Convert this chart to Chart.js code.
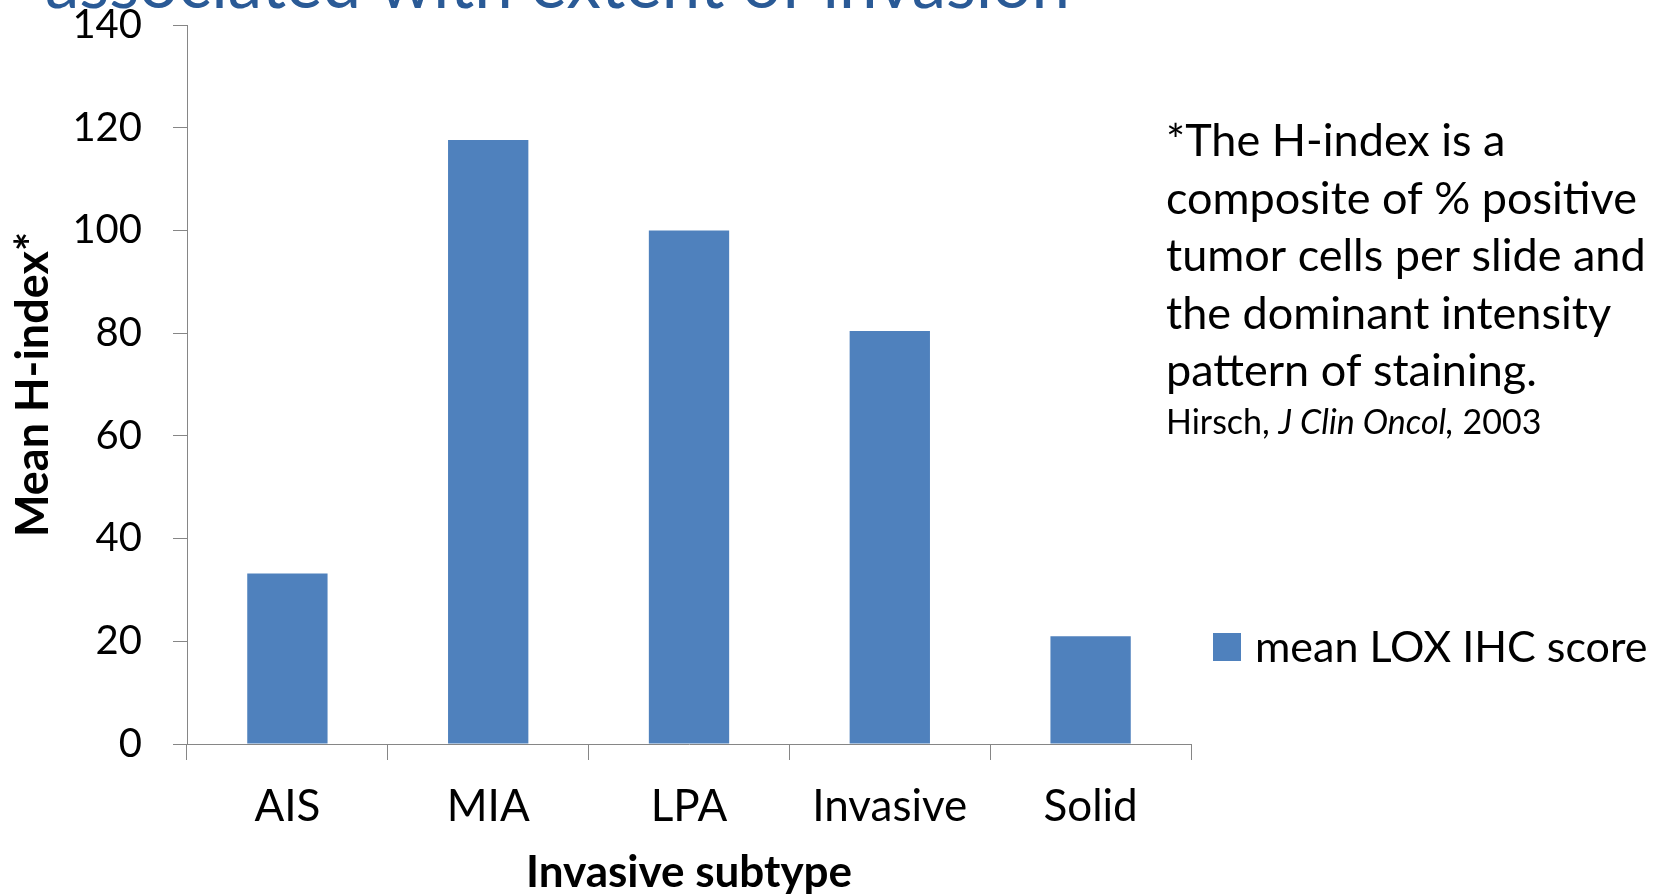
<!DOCTYPE html>
<html>
<head>
<meta charset="utf-8">
<script src="https://cdn.jsdelivr.net/npm/chart.js@4.4.1/dist/chart.umd.min.js"></script>
<style>
  html, body { margin: 0; padding: 0; background: #fff; }
  canvas { display: block; }
</style>
</head>
<body>
<canvas id="myChart" width="1659" height="895"></canvas>
<script>
// data
const subtypes = ['AIS', 'MIA', 'LPA', 'Invasive', 'Solid'];
const meanLoxScore = [33.2, 117.6, 100, 80.4, 21];
const yMin = 0;
const yMax = 140;
const yStep = 20;
const seriesLabel = 'mean LOX IHC score';
const headline = 'associated with extent of invasion';
const noteLines = [
  '*The H-index is a',
  'composite of % positive',
  'tumor cells per slide and',
  'the dominant intensity',
  'pattern of staining.'
];
const citeAuthor = 'Hirsch, ';
const citeJournal = 'J Clin Oncol,';
const citeYear = ' 2003';

const FONT = 'Lato, "Open Sans", sans-serif';
const BAR_BLUE = '#4F81BD';
const AXIS_GREY = '#868686';

Chart.defaults.font.family = FONT;
Chart.defaults.color = '#000';

// headline, footnote and legend drawn on top of the chart
const extras = {
  id: 'extras',
  afterDraw(chart) {
    const ctx = chart.ctx;
    ctx.save();

    // headline (only the lower part fits on the canvas)
    ctx.fillStyle = '#2A5A96';
    ctx.font = '69px ' + FONT;
    ctx.textAlign = 'right';
    ctx.textBaseline = 'alphabetic';
    ctx.fillText(headline, 1070, 8);

    // footnote
    ctx.fillStyle = '#000';
    ctx.textAlign = 'left';
    ctx.font = '45px ' + FONT;
    noteLines.forEach((line, i) => ctx.fillText(line, 1166, 156 + i * 57.6));

    // citation
    let x = 1166;
    const y = 434;
    ctx.font = '34px ' + FONT;
    ctx.fillText(citeAuthor, x, y);
    x += ctx.measureText(citeAuthor).width;
    ctx.font = 'italic 34px ' + FONT;
    ctx.fillText(citeJournal, x, y);
    x += ctx.measureText(citeJournal).width;
    ctx.font = '34px ' + FONT;
    ctx.fillText(citeYear, x, y);

    // legend
    const ds = chart.data.datasets[0];
    ctx.fillStyle = ds.backgroundColor;
    ctx.fillRect(1213, 633, 28, 28);
    ctx.fillStyle = '#000';
    ctx.font = '43px ' + FONT;
    ctx.textBaseline = 'middle';
    ctx.fillText(ds.label, 1255, 648);

    ctx.restore();
  }
};

const data = {
  labels: subtypes,
  datasets: [{
    label: seriesLabel,
    data: meanLoxScore,
    backgroundColor: BAR_BLUE,
    borderWidth: 0,
    categoryPercentage: 0.8,
    barPercentage: 0.5
  }]
};

const config = {
  type: 'bar',
  data,
  options: {
    responsive: false,
    animation: false,
    layout: { padding: { top: 0, right: 468, bottom: 0, left: 0 } },
    plugins: {
      legend: { display: false },
      tooltip: { enabled: false },
      extras: {}
    },
    scales: {
      x: {
        border: { color: AXIS_GREY, width: 1 },
        grid: { drawOnChartArea: false, tickLength: 16, color: AXIS_GREY },
        ticks: { font: { size: 44 }, padding: 20, color: '#000' },
        title: {
          display: true,
          text: 'Invasive subtype',
          font: { size: 44, weight: 'bold', lineHeight: 1.0 },
          padding: { top: 0, bottom: 0 }
        },
        afterFit(scale) { scale.height = 151; }
      },
      y: {
        min: yMin,
        max: yMax,
        border: { color: AXIS_GREY, width: 1 },
        grid: { drawOnChartArea: false, tickLength: 14, color: AXIS_GREY },
        ticks: { stepSize: yStep, font: { size: 40, lineHeight: 1.0 }, padding: 31, color: '#000' },
        title: {
          display: true,
          text: 'Mean H-index*',
          font: { size: 45, weight: 'bold', lineHeight: 1.1 },
          padding: { top: 9, bottom: 0 }
        },
        afterFit(scale) {
          scale.width = 187;
          // the top label only needs room for half its height
          scale.paddingTop = 25;
        }
      }
    }
  },
  plugins: [extras]
};

const myChart = new Chart(document.getElementById('myChart'), config);
</script>
</body>
</html>
